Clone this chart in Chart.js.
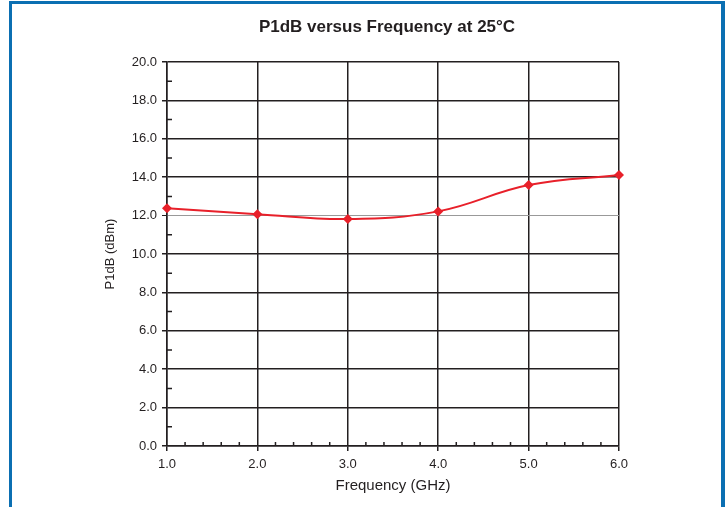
<!DOCTYPE html>
<html><head><meta charset="utf-8">
<script src="https://cdn.jsdelivr.net/npm/chart.js@4/dist/chart.umd.min.js"></script>
<style>
html,body{margin:0;padding:0;background:#fff;overflow:hidden;}
#frame{position:absolute;left:9px;top:1px;width:716px;height:540px;box-sizing:border-box;border-left:3px solid #0b6fb2;border-top:3px solid #0b6fb2;border-right:4px solid #0b6fb2;}
#wrap{position:absolute;left:0;top:0;width:728px;height:507px;}
</style></head><body>
<div id="frame"></div>
<div id="wrap"><canvas id="c" width="728" height="507"></canvas></div>
<script>
const frequencies = [1.0, 2.0, 3.0, 4.0, 5.0, 6.0];
const p1dbValues = [12.38, 12.07, 11.82, 12.22, 13.59, 14.11];
const xRange = [1, 6];
const yRange = [0, 20];
const xStep = 1;
const yStep = 2;
const xMinorStep = 0.2;
const yMinorStep = 1;
const highlightGridValue = 12;

const INK = '#231f20';
const RED = '#e8202a';
const FONT = "'Liberation Sans', Arial, sans-serif";

const minorTicks = {
  id: 'minorTicks',
  beforeDatasetsDraw(chart) {
    const {ctx, chartArea} = chart;
    const xs = chart.scales.x, ys = chart.scales.y;
    ctx.save();
    ctx.strokeStyle = INK;
    ctx.lineWidth = 1.5;
    ctx.beginPath();
    const nx = Math.round((xRange[1] - xRange[0]) / xMinorStep);
    for (let i = 1; i < nx; i++) {
      const v = xRange[0] + i * xMinorStep;
      if (Math.abs(v - Math.round(v / xStep) * xStep) < 1e-6) continue;
      const px = xs.getPixelForValue(v);
      ctx.moveTo(px, chartArea.bottom);
      ctx.lineTo(px, chartArea.bottom - 4);
    }
    const ny = Math.round((yRange[1] - yRange[0]) / yMinorStep);
    for (let i = 1; i < ny; i++) {
      const v = yRange[0] + i * yMinorStep;
      if (Math.abs(v - Math.round(v / yStep) * yStep) < 1e-6) continue;
      const py = ys.getPixelForValue(v);
      ctx.moveTo(chartArea.left, py);
      ctx.lineTo(chartArea.left + 5, py);
    }
    ctx.stroke();
    ctx.restore();
  }
};

new Chart(document.getElementById('c'), {
  type: 'line',
  data: {
    datasets: [{
      label: 'P1dB',
      data: frequencies.map((f, i) => ({x: f, y: p1dbValues[i]})),
      borderColor: RED,
      backgroundColor: RED,
      borderWidth: 2,
      tension: 0.4,
      pointStyle: 'rectRot',
      pointRadius: 5,
      pointBorderWidth: 0,
      pointBackgroundColor: RED,
      clip: false
    }]
  },
  options: {
    responsive: false,
    animation: false,
    layout: {padding: {left: 46, right: 0, top: 0, bottom: 12}},
    plugins: {
      legend: {display: false},
      tooltip: {enabled: false},
      title: {
        display: true,
        text: 'P1dB versus Frequency at 25°C',
        color: INK,
        font: {family: FONT, size: 17, weight: 'bold', lineHeight: 1.2},
        padding: {top: 17, bottom: 24.6}
      }
    },
    scales: {
      x: {
        type: 'linear',
        min: xRange[0], max: xRange[1],
        afterFit(s) { s.height = 49; },
        ticks: {stepSize: xStep, autoSkip: false, maxRotation: 0, padding: 6,
          color: INK, font: {family: FONT, size: 13},
          callback: v => Number(v).toFixed(1)},
        grid: {color: INK, lineWidth: 1.5, tickLength: 5, tickColor: INK},
        border: {color: INK, width: 1.5},
        title: {display: true, text: 'Frequency (GHz)', color: INK,
          font: {family: FONT, size: 15}, padding: {top: 0, bottom: 0}}
      },
      y: {
        min: yRange[0], max: yRange[1],
        afterFit(s) { s.width = 121; },
        ticks: {stepSize: yStep, padding: 5, color: INK, font: {family: FONT, size: 13},
          callback: v => Number(v).toFixed(1)},
        grid: {
          color: c => (c.tick && c.tick.value === highlightGridValue) ? '#999999' : INK,
          lineWidth: c => (c.tick && c.tick.value === highlightGridValue) ? 1 : 1.5,
          tickLength: 5, tickColor: INK
        },
        border: {color: INK, width: 1.5},
        title: {display: true, text: 'P1dB (dBm)', color: INK,
          font: {family: FONT, size: 13}, padding: {top: 57, bottom: 0}}
      },
      y2: {
        position: 'right',
        min: yRange[0], max: yRange[1],
        afterFit(s) { s.width = 109; },
        ticks: {display: false},
        grid: {display: false, drawTicks: false},
        border: {display: false}
      }
    }
  },
  plugins: [minorTicks]
});
</script>
</body></html>
